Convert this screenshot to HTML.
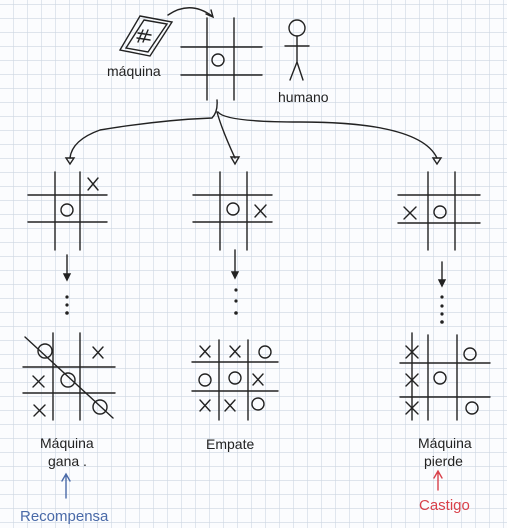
<!DOCTYPE html>
<html><head><meta charset="utf-8"><style>
html,body{margin:0;padding:0;background:#fff}
svg{display:block}
text{font-family:"Liberation Sans",sans-serif;font-size:14px;fill:#222}
</style></head><body>
<svg width="507" height="528" viewBox="0 0 507 528" xmlns="http://www.w3.org/2000/svg">
<defs>
<pattern id="g" x="13" y="4" width="14" height="14" patternUnits="userSpaceOnUse">
<path d="M0 0V14M0 0H14" stroke="#cdd6e2" stroke-width="1.2" fill="none"/>
</pattern>
</defs>
<rect width="507" height="528" fill="#fbfcfe"/>
<rect width="507" height="528" fill="url(#g)"/>
<g stroke="#222" stroke-width="1.4" fill="none" stroke-linecap="round">
<!-- top board -->
<path d="M207 18V100M234 18V100M181 47H262M181 75H262"/>
<circle cx="218" cy="60" r="6"/>
<!-- machine icon -->
<path d="M140 16L172 22L150 56L120 50Z"/><path d="M144 20L167 24L148 52L126 48Z"/>
<path d="M143 30L138 42M148 30L143 42M138 33L151 35M137 38L150 40"/>
<!-- arrow to board -->
<path d="M168 15Q190 0 212 16"/><path d="M206 14L213 17L211 10"/>
<!-- person -->
<circle cx="297" cy="28" r="8"/><path d="M297 36V62M285 46H309M297 62L290 80M297 62L303 80"/>
<!-- branches -->
<path d="M217 100Q218 112 212 118Q160 120 100 130Q72 140 70 158"/>
<path d="M66 158L70 164L74 158Z"/>
<path d="M217 112Q222 130 235 158"/><path d="M231 157L235 164L239 157Z"/>
<path d="M218 112Q225 122 300 122Q420 122 437 158"/><path d="M433 158L437 164L441 158Z"/>
<!-- row2 boards -->
<path d="M55 172V250M80 172V250M28 195H107M28 222H107"/>
<path d="M88 178L98 190M98 178L88 190"/><circle cx="67" cy="210" r="6"/>
<path d="M220 172V250M247 172V250M193 195H272M193 222H272"/>
<circle cx="233" cy="209" r="6"/><path d="M255 205L266 217M266 205L255 217"/>
<path d="M428 172V250M455 172V250M398 195H480M398 223H480"/>
<path d="M404 207L416 219M416 207L404 219"/><circle cx="440" cy="212" r="6"/>
<!-- down arrows -->
<path d="M67 255V276"/><path d="M64 274L67 280L70 274Z" fill="#222"/>
<path d="M235 250V274"/><path d="M232 272L235 278L238 272Z" fill="#222"/>
<path d="M442 262V282"/><path d="M439 280L442 286L445 280Z" fill="#222"/>
<!-- bottom left -->
<path d="M53 333V420M80 333V420M23 367H115M23 393H115"/>
<path d="M25 337L113 418"/>
<circle cx="45" cy="351" r="7"/><circle cx="68" cy="380" r="7"/><circle cx="100" cy="407" r="7"/>
<path d="M93 347L103 358M103 347L93 358M33 376L44 387M44 376L33 387M34 405L45 416M45 405L34 416"/>
<!-- bottom middle -->
<path d="M219 340V420M248 340V420M192 362H278M192 391H278"/>
<path d="M200 346L210 357M210 346L200 357M230 346L240 357M240 346L230 357M253 374L263 385M263 374L253 385M200 400L210 411M210 400L200 411M225 400L235 411M235 400L225 411"/>
<circle cx="265" cy="352" r="6"/><circle cx="205" cy="380" r="6"/><circle cx="235" cy="378" r="6"/><circle cx="258" cy="404" r="6"/>
<!-- bottom right -->
<path d="M428 335V420M457 335V420M400 363H490M400 397H490M412 333V420"/>
<path d="M406 346L418 358M418 346L406 358M406 374L418 386M418 374L406 386M406 402L418 414M418 402L406 414"/>
<circle cx="470" cy="354" r="6"/><circle cx="440" cy="378" r="6"/><circle cx="472" cy="408" r="6"/>
</g>
<g fill="#222">
<circle cx="67" cy="297" r="1.6"/><circle cx="67" cy="305" r="1.6"/><circle cx="67" cy="313" r="1.8"/>
<circle cx="236" cy="290" r="1.6"/><circle cx="236" cy="301" r="1.6"/><circle cx="236" cy="313" r="1.8"/>
<circle cx="442" cy="297" r="1.6"/><circle cx="442" cy="306" r="1.6"/><circle cx="442" cy="314" r="1.6"/><circle cx="442" cy="322" r="1.8"/>
</g>
<text x="107" y="76">máquina</text>
<text x="278" y="102">humano</text>
<text x="40" y="448">Máquina</text>
<text x="48" y="466">gana .</text>
<text x="206" y="449">Empate</text>
<text x="418" y="448">Máquina</text>
<text x="424" y="466">pierde</text>
<g stroke-width="1.4" fill="none" stroke-linecap="round">
<path d="M66 498V475M62 481L66 474L70 481" stroke="#4a6aa8"/>
<path d="M438 490V472M434 478L438 471L442 478" stroke="#d8404a"/>
</g>
<text x="20" y="521" style="fill:#4a6aa8;font-size:15px">Recompensa</text>
<text x="419" y="510" style="fill:#d8404a;font-size:15px">Castigo</text>
</svg>
</body></html>
